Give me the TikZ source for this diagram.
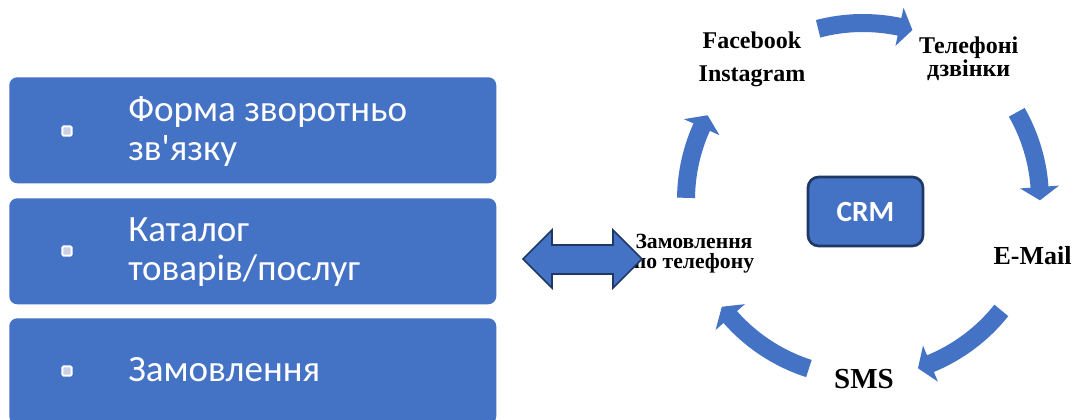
\documentclass[tikz,border=0pt]{standalone}
\usepackage{fontspec}
\setmainfont{Liberation Serif}
\newfontfamily\carlito{Carlito}
\usetikzlibrary{calc}
\definecolor{acc}{HTML}{4472C4}
\definecolor{navy}{HTML}{1F3864}
\definecolor{bul}{HTML}{C8CFE6}
\begin{document}
\begin{tikzpicture}[x=0.75pt,y=-0.75pt,
  box/.style={fill=acc, rounded corners=6pt, anchor=north west, minimum width=365.25pt, minimum height=79.5pt, inner sep=0pt},
  bullet/.style={draw=white, fill=bul, line width=1.4pt, rounded corners=1pt, minimum size=7pt, inner sep=0pt},
  lefttext/.style={text=white, font=\carlito\fontsize{27.8}{29.25}\selectfont, align=left, anchor=base west, inner sep=0pt},
  lbl/.style={font=\bfseries, align=center, inner sep=0pt, anchor=base},
  cyc/.style={acc, line width=13.5pt},
  crmbox/.style={fill=acc, draw=navy, line width=2pt, rounded corners=8pt, minimum width=86.25pt, minimum height=51.75pt, text=white, font=\carlito\bfseries\fontsize{22}{26}\selectfont}
]
\useasboundingbox (0,0) rectangle (1074,420);
\clip (0,0) rectangle (1074,420);
\fill[white] (0,0) rectangle (1074,420);

% left boxes
\node[box] (b1) at (9,77) {};
\node[box] (b2) at (9,198) {};
\node[box] (b3) at (9,318) {};
\node[bullet] (u1) at (67,131) {};
\node[bullet] (u2) at (67,251) {};
\node[bullet] (u3) at (67,371) {};
% anchor=base of a multi-line node is the baseline of its last line
\node[lefttext] (t1) at (128,160.7) {Форма зворотньо\\зв\textquotesingle язку};
\node[lefttext] (t2) at (128,280.7) {Каталог\\товарів/послуг};
\node[lefttext] (t3) at (128,381.7) {Замовлення};

% centre box
\node[crmbox] (crm) at (865.5,211.5) {CRM};

% labels
\node[lbl, font=\bfseries\fontsize{18}{25}\selectfont] (fb) at (752,82) {Facebook\\Instagram};
\node[lbl, font=\bfseries\fontsize{18}{17.6}\selectfont] (tel) at (968.7,77) {Телефоні\\дзвінки};
\node[lbl, font=\bfseries\fontsize{19.5}{24}\selectfont] (em) at (1032.5,265) {E-Mail};
\node[lbl, font=\bfseries\fontsize{21.75}{26}\selectfont] (sms) at (864,388) {SMS};
\node[lbl, font=\bfseries\fontsize{16.25}{15}\selectfont] (zam) at (694,268) {Замовлення\\по телефону};

% cycle arrows
\coordinate (cc) at (863,200);
\foreach \a/\b [count=\i] in {-104.7/-78.1, -29.7/-4.2, 38.6/67.6, 107.8/138.6, 180.7/204.3} {
  \draw[cyc] (cc) ++(\a:177) coordinate (s\i) arc[start angle=\a, end angle=\b+0.6, radius=177];
  \fill[acc] ($(cc)+(\b:157.5)$) -- ($(cc)+(\b+4.3:177)$) -- ($(cc)+(\b:196.5)$) -- cycle;
}

% double arrow
\coordinate (dl) at (523,259);
\coordinate (dr) at (642,259);
\draw[fill=acc, draw=navy, line width=1.2pt, line join=miter]
  (dl) -- (552,230) -- (552,245) -- (613,245) -- (613,230) -- (dr)
  -- (613,288) -- (613,274) -- (552,274) -- (552,288) -- cycle;
\end{tikzpicture}
\end{document}
